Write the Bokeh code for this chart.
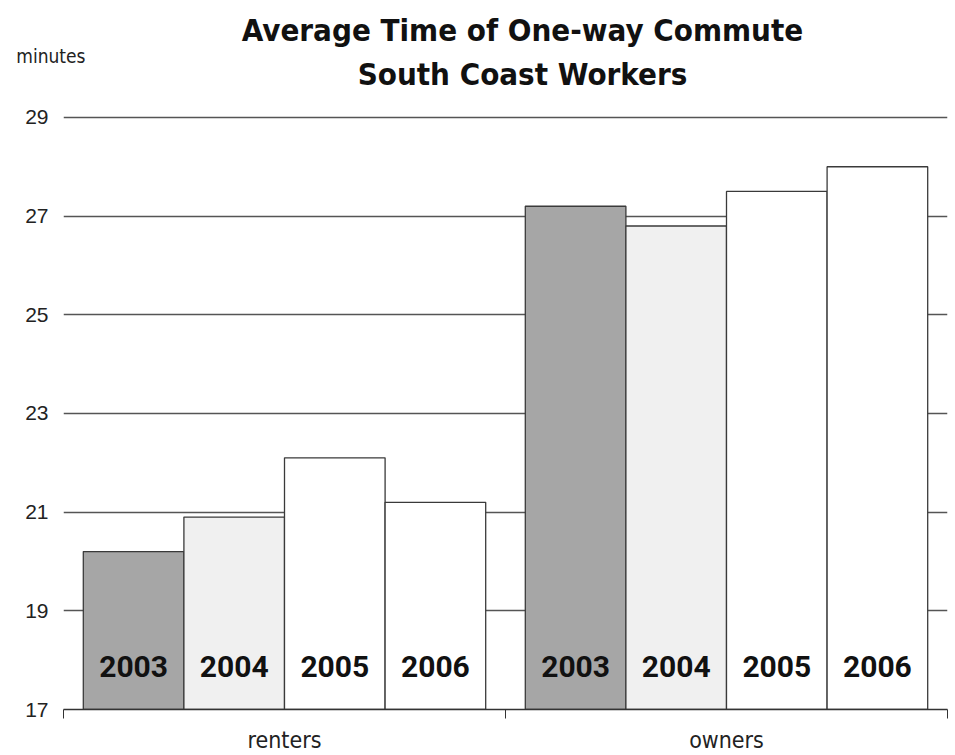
from bokeh.plotting import figure
from bokeh.layouts import column
from bokeh.models import ColumnDataSource, Range1d, FixedTicker, LinearAxis
from bokeh.core.properties import value
from bokeh.embed import file_html
from bokeh.resources import INLINE

categories = ["renters", "owners"]
years = ["2003", "2004", "2005", "2006"]
renters = [20.2, 20.9, 22.1, 21.2]
owners = [27.2, 26.8, 27.5, 28.0]
year_colors = ["#a6a6a6", "#f0f0f0", "#ffffff", "#ffffff"]
y_ticks = [17, 19, 21, 23, 25, 27, 29]
title_lines = ["Average Time of One-way Commute", "South Coast Workers"]
unit_label = "minutes"

NARROW = "DejaVu Sans Condensed, Roboto, sans-serif"
W = 953
LEFT, RIGHT = 63, 6
bar_w = 0.2276

# ---------- header (title + unit label) ----------
hdr = figure(width=W, height=100, output_backend="svg", toolbar_location=None,
             x_range=Range1d(LEFT, W - RIGHT), y_range=Range1d(0, 100),
             x_axis_type=None,
             min_border_left=LEFT, min_border_right=RIGHT, min_border_top=0, min_border_bottom=0)
hdr.outline_line_color = None
hdr.xgrid.visible = False
hdr.ygrid.visible = False
hax = hdr.yaxis[0]
hax.ticker = FixedTicker(ticks=[45])
hax.major_label_overrides = {45: unit_label}
hax.axis_line_color = None
hax.major_tick_line_color = None
hax.minor_tick_line_color = None
hax.major_tick_out = 0
hax.major_tick_in = 0
hax.major_label_standoff = -22
hax.major_label_text_font = NARROW
hax.major_label_text_font_size = "19px"
hax.major_label_text_color = "#222222"
hdr.text(x=[522, 522], y=[71, 27], text=title_lines, text_align="center",
         text_baseline="middle", text_font=value(NARROW), text_font_style="bold",
         text_font_size="31px", text_color="#111111")

# ---------- main chart ----------
xs, tops, cols, labels = [], [], [], []
for ci, series in enumerate([renters, owners]):
    for j, v in enumerate(series):
        xs.append(ci + 0.5 + (j - 1.5) * bar_w)
        tops.append(v)
        cols.append(year_colors[j])
        labels.append(years[j])
src = ColumnDataSource(dict(x=xs, top=tops, color=cols, label=labels))

p = figure(width=W, height=655, output_backend="svg", toolbar_location=None,
           x_range=Range1d(0, 2), y_range=Range1d(17, 29.1),
           min_border_left=LEFT, min_border_right=RIGHT, min_border_top=12, min_border_bottom=44,
           x_axis_type=None)
p.outline_line_color = None

yax = p.yaxis[0]
yax.ticker = FixedTicker(ticks=y_ticks)
yax.axis_line_color = None
yax.major_tick_line_color = None
yax.minor_tick_line_color = None
yax.major_tick_out = 0
yax.major_tick_in = 0
yax.major_label_text_font = "Liberation Sans"
yax.major_label_text_font_size = "21px"
yax.major_label_text_color = "#222222"
yax.major_label_standoff = 15

p.xgrid.visible = False
p.ygrid.ticker = FixedTicker(ticks=y_ticks)
p.ygrid.grid_line_color = "#555555"
p.ygrid.grid_line_width = 1.3

xax = LinearAxis(ticker=FixedTicker(ticks=[0.5, 1.5], minor_ticks=[0, 1, 2]))
xax.major_label_overrides = {0.5: categories[0], 1.5: categories[1]}
xax.axis_line_color = "#333333"
xax.axis_line_width = 1.3
xax.major_tick_line_color = None
xax.major_tick_out = 0
xax.major_tick_in = 0
xax.minor_tick_line_color = "#333333"
xax.minor_tick_out = 9
xax.minor_tick_in = 0
xax.major_label_text_font = NARROW
xax.major_label_text_font_size = "23px"
xax.major_label_text_color = "#222222"
xax.major_label_standoff = 8
p.add_layout(xax, "below")

p.vbar(x="x", top="top", bottom=17, width=bar_w, source=src,
       fill_color="color", line_color="#3a3a3a", line_width=1.3)
p.text(x="x", y=17, text="label", source=src, y_offset=-43,
       text_align="center", text_baseline="middle",
       text_font=value("Roboto"), text_font_style="bold",
       text_font_size="30px", text_color="#111111")

layout = column(hdr, p, spacing=0)
open("out.html", "w").write(file_html(layout, INLINE))
